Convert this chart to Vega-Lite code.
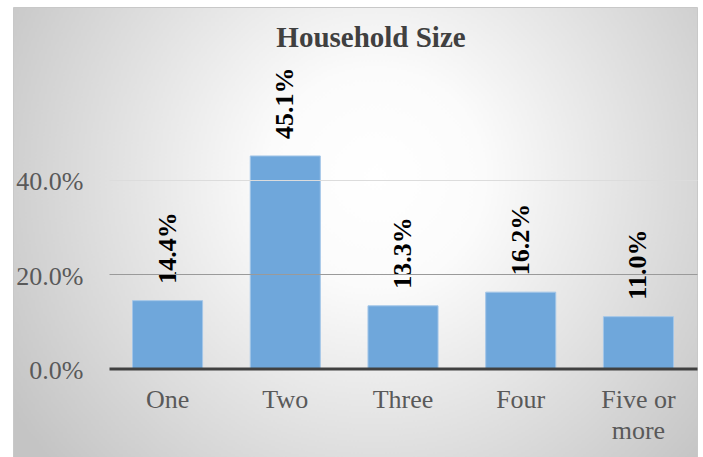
{
  "$schema": "https://vega.github.io/schema/vega-lite/v6.json",
  "width": 684,
  "height": 450,
  "autosize": {"type": "none"},
  "padding": {"left": 13, "top": 7, "right": 6, "bottom": 0},
  "background": "#ffffff",
  "view": {
    "fill": {
      "gradient": "radial",
      "x1": 0.53, "y1": 0.42, "r1": 0,
      "x2": 0.53, "y2": 0.42, "r2": 0.63,
      "stops": [
        {"offset": 0, "color": "#ffffff"},
        {"offset": 0.25, "color": "#fbfbfb"},
        {"offset": 1, "color": "#c4c4c4"}
      ]
    },
    "stroke": "#c8c8c8",
    "strokeWidth": 1
  },
  "title": {
    "text": "Household Size",
    "font": "Liberation Serif",
    "fontSize": 29,
    "fontWeight": "bold",
    "color": "#404040",
    "anchor": "middle",
    "frame": "group",
    "baseline": "alphabetic",
    "offset": -69,
    "dx": 16
  },
  "data": {
    "values": [
      {"size": "One", "share": 0.144},
      {"size": "Two", "share": 0.451},
      {"size": "Three", "share": 0.133},
      {"size": "Four", "share": 0.162},
      {"size": "Five or more", "share": 0.110}
    ]
  },
  "encoding": {
    "x": {
      "field": "size",
      "type": "nominal",
      "sort": null,
      "scale": {"range": [96, 684], "paddingInner": 0.405, "paddingOuter": 0.2},
      "axis": {
        "title": null,
        "orient": "bottom",
        "offset": -88.5,
        "domainColor": "#404040",
        "domainWidth": 3,
        "ticks": false,
        "tickSize": 0,
        "labelPadding": 18,
        "labelFont": "Liberation Serif",
        "labelFontSize": 26,
        "labelColor": "#595959",
        "labelAngle": 0,
        "labelLineHeight": 31,
        "labelLimit": 0,
        "labelExpr": "datum.label === 'Five or more' ? ['Five or', 'more'] : datum.label",
        "grid": false,
        "zindex": 1
      }
    },
    "y": {
      "field": "share",
      "type": "quantitative",
      "scale": {"domain": [-0.1878, 0.7671], "zero": false, "nice": false},
      "axis": {
        "title": null,
        "values": [0, 0.2, 0.4],
        "format": ".1%",
        "domain": false,
        "ticks": false,
        "tickSize": 0,
        "labelPadding": 0,
        "offset": -70,
        "labelOffset": 2,
        "labelFont": "Liberation Serif",
        "labelFontSize": 26,
        "labelColor": "#595959",
        "grid": true,
        "gridColor": {"condition": {"test": "datum.value === 0.2", "value": "#9a9a9a"}, "value": "#dcdcdc"},
        "gridOpacity": {"condition": {"test": "datum.value === 0", "value": 0}, "value": 1},
        "gridWidth": 1,
        "zindex": 1
      }
    }
  },
  "layer": [
    {
      "mark": {"type": "bar", "color": "#6fa7db", "stroke": "#a3c6e8", "strokeWidth": 1},
      "encoding": {"y2": {"datum": 0}}
    },
    {
      "mark": {
        "type": "text",
        "angle": 270,
        "align": "left",
        "baseline": "middle",
        "dx": 17,
        "font": "Liberation Serif",
        "fontSize": 26,
        "fontWeight": "bold",
        "color": "#000000"
      },
      "encoding": {"text": {"field": "share", "type": "quantitative", "format": ".1%"}}
    }
  ]
}
